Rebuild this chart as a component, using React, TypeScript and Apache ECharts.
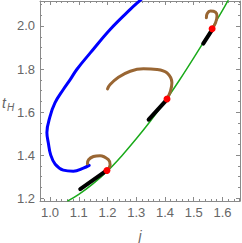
import React, { useEffect, useRef } from "react";
import * as echarts from "echarts";

// Green reference curve (j, t_H)
const greenCurve: [number, number][] = [
  [1.062, 1.188], [1.10, 1.218], [1.15, 1.268], [1.20, 1.327], [1.25, 1.398],
  [1.30, 1.476], [1.35, 1.560], [1.40, 1.650], [1.45, 1.748], [1.50, 1.852],
  [1.55, 1.960], [1.60, 2.072], [1.63, 2.145],
];

// Blue curve
const blueCurve: [number, number][] = [
  [1.335, 2.145], [1.317, 2.123], [1.279, 2.077], [1.209, 1.984], [1.140, 1.875],
  [1.093, 1.798], [1.070, 1.751], [1.046, 1.705], [1.017, 1.643], [1.000, 1.580],
  [0.989, 1.505], [0.994, 1.457], [1.002, 1.402], [1.018, 1.358], [1.046, 1.331],
  [1.081, 1.326], [1.116, 1.340], [1.136, 1.353],
];

// Brown hooks
const brownHook1: [number, number][] = [
  [1.198, 1.329], [1.209, 1.356], [1.203, 1.379], [1.174, 1.398],
  [1.151, 1.394], [1.134, 1.379], [1.130, 1.360],
];
const brownHook2: [number, number][] = [
  [1.407, 1.661], [1.419, 1.697], [1.424, 1.736], [1.407, 1.782], [1.372, 1.798],
  [1.325, 1.801], [1.279, 1.790], [1.238, 1.762], [1.209, 1.728], [1.200, 1.708],
];
const brownHook3: [number, number][] = [
  [1.564, 1.987], [1.576, 2.015], [1.581, 2.046], [1.576, 2.064],
  [1.558, 2.069], [1.547, 2.058], [1.544, 2.038],
];

// Black segments
const blackSeg1: [number, number][] = [[1.105, 1.243], [1.195, 1.327]];
const blackSeg2: [number, number][] = [[1.343, 1.565], [1.401, 1.650]];
const blackSeg3: [number, number][] = [[1.533, 1.918], [1.561, 1.976]];

// Red points
const redPoints: [number, number][] = [[1.198, 1.329], [1.407, 1.661], [1.564, 1.987]];

const X_MIN = 0.965;
const X_MAX = 1.661;
const Y_MIN = 1.1874;
const Y_MAX = 2.116;

const FRAME = "#8a8a8a";
const LABEL = "#666666";
const FONT = '"Liberation Sans", Arial, sans-serif';

export default function App() {
  const ref = useRef<HTMLDivElement>(null);
  useEffect(() => {
    if (!ref.current) return;
    const chart = echarts.init(ref.current, undefined, { renderer: "svg" });
    const gridRect = { left: 40, right: 2, top: 1, bottom: 42 };
    const majorX = (pos: string, labels: boolean) => ({
      type: "value", gridIndex: 0, position: pos, min: X_MIN, max: X_MAX, splitNumber: 7,
      axisLine: { show: true, onZero: false, lineStyle: { color: FRAME, width: 1 } },
      axisTick: { show: true, inside: true, length: 4, lineStyle: { color: FRAME } },
      axisLabel: {
        show: labels, color: LABEL, fontSize: 13, fontFamily: FONT, margin: 5,
        showMinLabel: false, showMaxLabel: false,
        formatter: (v: number) => v.toFixed(1),
      },
      splitLine: { show: false },
    });
    const minorX = (pos: string) => ({
      type: "value", gridIndex: 1, position: pos, min: X_MIN, max: X_MAX, splitNumber: 35,
      axisLine: { show: false },
      axisTick: { show: true, inside: true, length: 2, lineStyle: { color: FRAME } },
      axisLabel: { show: false },
      splitLine: { show: false },
    });
    const majorY = (pos: string, labels: boolean) => ({
      type: "value", gridIndex: 0, position: pos, min: Y_MIN, max: Y_MAX, splitNumber: 5,
      axisLine: { show: true, onZero: false, lineStyle: { color: FRAME, width: 1 } },
      axisTick: { show: true, inside: true, length: 4, lineStyle: { color: FRAME } },
      axisLabel: {
        show: labels, color: LABEL, fontSize: 13, fontFamily: FONT, margin: 5,
        showMinLabel: false, showMaxLabel: false,
        formatter: (v: number) => v.toFixed(1),
      },
      splitLine: { show: false },
    });
    const minorY = (pos: string) => ({
      type: "value", gridIndex: 1, position: pos, min: Y_MIN, max: Y_MAX, splitNumber: 19,
      axisLine: { show: false },
      axisTick: { show: true, inside: true, length: 2, lineStyle: { color: FRAME } },
      axisLabel: { show: false },
      splitLine: { show: false },
    });
    const lineSeries = (data: [number, number][], color: string, width: number, smooth: number | boolean, z: number) => ({
      type: "line", xAxisIndex: 0, yAxisIndex: 0, data, showSymbol: false, symbol: "none",
      smooth, clip: true, lineStyle: { color, width, cap: "round" }, silent: true, z,
    });
    chart.setOption({
      animation: false,
      grid: [
        { ...gridRect, containLabel: false },
        { ...gridRect, containLabel: false },
      ],
      xAxis: [majorX("bottom", true), majorX("top", false), minorX("bottom"), minorX("top")],
      yAxis: [majorY("left", true), majorY("right", false), minorY("left"), minorY("right")],
      series: [
        lineSeries(greenCurve, "#1aaa1a", 1.5, 0.4, 2),
        lineSeries(blueCurve, "#0000ff", 3, 0.4, 3),
        lineSeries(brownHook1, "#996633", 3, 0.4, 3),
        lineSeries(brownHook2, "#996633", 3, 0.4, 3),
        lineSeries(brownHook3, "#996633", 3, 0.4, 3),
        lineSeries(blackSeg1, "#000000", 4, false, 4),
        lineSeries(blackSeg2, "#000000", 4, false, 4),
        lineSeries(blackSeg3, "#000000", 4, false, 4),
        {
          type: "scatter", xAxisIndex: 0, yAxisIndex: 0, data: redPoints, z: 10,
          symbol: "circle", symbolSize: 7, itemStyle: { color: "#ff0000", opacity: 1 }, silent: true,
        },
      ],
      graphic: [
        {
          type: "text", x: 140, y: 236,
          style: { text: "j", font: `italic 14px ${FONT}`, fill: LABEL, textAlign: "center", textVerticalAlign: "middle" },
        },
        {
          type: "text", x: 2, y: 103,
          style: { text: "t", font: `italic 14px ${FONT}`, fill: LABEL, textAlign: "left", textVerticalAlign: "middle" },
        },
        {
          type: "text", x: 7, y: 107,
          style: { text: "H", font: `italic 10px ${FONT}`, fill: LABEL, textAlign: "left", textVerticalAlign: "middle" },
        },
      ],
    });
    return () => chart.dispose();
  }, []);
  return <div ref={ref} style={{ position: "absolute", left: 0, top: 0, width: 242, height: 243 }} />;
}
